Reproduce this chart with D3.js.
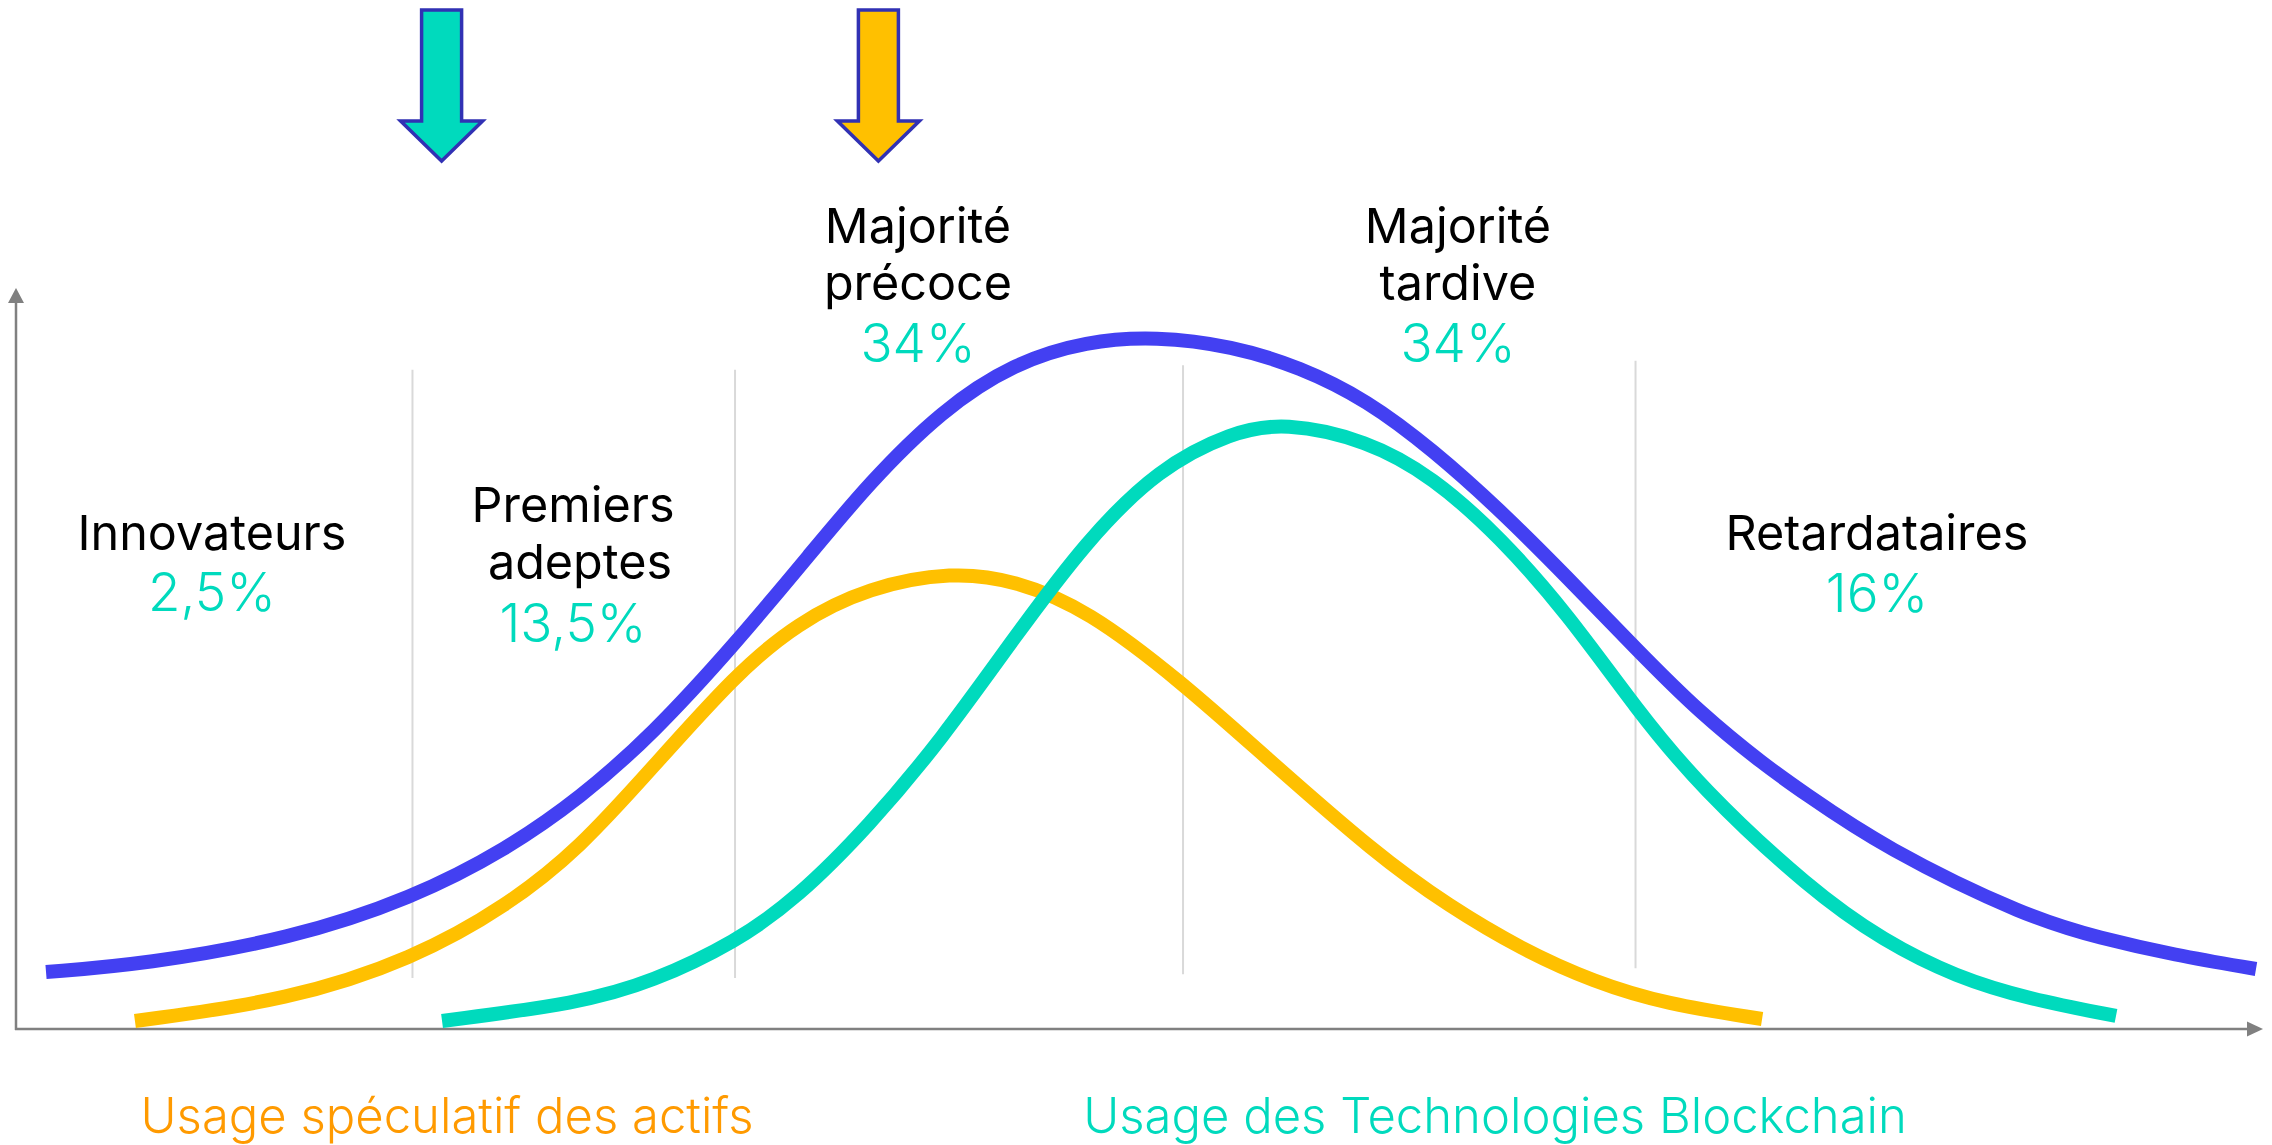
<!DOCTYPE html>
<html>
<head>
<meta charset="utf-8">
<script src="https://cdn.jsdelivr.net/npm/d3@7"></script>
<style>
  html, body { margin: 0; padding: 0; background: #ffffff; }
  svg { display: block; }
</style>
</head>
<body>
<svg id="chart" width="2272" height="1145"></svg>
<script>
// ---------------- DATA ----------------
const categories = ["Innovateurs", "Premiers adeptes", "Majorité précoce", "Majorité tardive", "Retardataires"];
const categoryLines = [["Innovateurs"], ["Premiers", "adeptes"], ["Majorité", "précoce"], ["Majorité", "tardive"], ["Retardataires"]];
const percentLabels = ["2,5%", "13,5%", "34%", "34%", "16%"];
const boundaries = [17.7, 32.1, 52.1, 72.3];

// adoption curve (blue)
const adoptionX = [1.34, 5.76, 12.23, 17.72, 21.92, 25.18, 28.39, 32.14, 35.49, 38.08, 41.34, 44.55, 47.81, 50.89, 54.29, 57.32, 60.31, 63.26, 66.25, 69.24, 72.37, 75.18, 78.17, 79.64, 83.39, 89.87, 93.04, 96.34, 100];
const adoptionY = [7.70, 8.78, 12.16, 17.70, 24.32, 31.22, 39.73, 52.16, 64.32, 73.78, 83.65, 90.00, 92.97, 93.60, 92.30, 89.46, 85.00, 78.24, 70.14, 61.08, 51.22, 42.70, 35.41, 32.30, 24.46, 15.00, 12.30, 10.00, 8.11];
// speculative use (yellow)
const speculativeX = [5.31, 12.23, 17.72, 21.92, 25.18, 28.39, 32.14, 34.87, 38.08, 41.83, 44.55, 47.81, 52.14, 55.58, 60.76, 63.97, 67.19, 70.45, 73.66, 77.95];
const speculativeY = [1.08, 3.92, 9.46, 16.62, 24.46, 35.27, 47.97, 54.86, 59.73, 61.80, 60.68, 56.76, 46.62, 37.30, 23.51, 16.62, 10.81, 6.35, 3.38, 1.35];
// blockchain use (teal)
const blockchainX = [19.02, 25.18, 28.39, 32.14, 34.87, 38.08, 41.34, 44.55, 47.81, 51.03, 54.29, 56.61, 60.31, 63.26, 66.25, 69.24, 72.37, 75.18, 80.13, 83.39, 86.61, 89.87, 93.75];
const blockchainY = [1.08, 3.51, 6.35, 11.76, 17.70, 27.43, 39.19, 52.84, 66.08, 75.81, 80.68, 82.00, 79.59, 74.59, 66.49, 56.22, 43.11, 32.70, 18.78, 11.89, 7.03, 4.05, 1.76];

const arrowPositions = [19.0, 38.5];
const bottomLabels = ["Usage spéculatif des actifs", "Usage des Technologies Blockchain"];

// ---------------- LAYOUT ----------------
const svg = d3.select("#chart");
const x = d3.scaleLinear().domain([0, 100]).range([16, 2256]);
const y = d3.scaleLinear().domain([0, 100]).range([1029, 289]);

const C_BLUE = "#4340f2", C_YELLOW = "#ffc000", C_TEAL = "#00dabd", C_AXIS = "#808080";
const C_GRID = "#d9d9d9", C_ORANGE = "#ff9a00", C_ARROW_EDGE = "#3131b4";
const FONT = "Inter, 'Noto Sans', sans-serif";

// gridlines (segment boundaries)
const gridTop = [89.1, 89.1, 89.7, 90.3];
const gridBottom = [6.9, 6.9, 7.4, 8.2];
svg.append("g").selectAll("line").data(boundaries).join("line")
  .attr("x1", d => x(d)).attr("x2", d => x(d))
  .attr("y1", (d, i) => y(gridTop[i])).attr("y2", (d, i) => y(gridBottom[i]))
  .attr("stroke", C_GRID).attr("stroke-width", 2);

// axes
const axisG = svg.append("g");
axisG.append("line").attr("x1", 16).attr("x2", 16).attr("y1", 300).attr("y2", 1030)
  .attr("stroke", C_AXIS).attr("stroke-width", 2.5);
axisG.append("line").attr("x1", 15).attr("x2", 2250).attr("y1", 1029).attr("y2", 1029)
  .attr("stroke", C_AXIS).attr("stroke-width", 2.5);
axisG.append("path").attr("d", "M16,288 L24,303 L8,303 Z").attr("fill", C_AXIS);
axisG.append("path").attr("d", "M2263,1029 L2247,1021.5 L2247,1036.5 Z").attr("fill", C_AXIS);

// curves
const line = d3.line().x(d => x(d[0])).y(d => y(d[1])).curve(d3.curveBasis);
const series = [
  { xs: adoptionX, ys: adoptionY, color: C_BLUE },
  { xs: speculativeX, ys: speculativeY, color: C_YELLOW },
  { xs: blockchainX, ys: blockchainY, color: C_TEAL }
];
svg.append("g").selectAll("path").data(series).join("path")
  .attr("d", s => line(s.xs.map((v, i) => [v, s.ys[i]])))
  .attr("fill", "none").attr("stroke", s => s.color).attr("stroke-width", 14)
  .attr("stroke-linecap", "butt");

// category labels
const labelPos = [
  { cx: 212, base: 550, pct: 611, dx: [0] },
  { cx: 573, base: 522, pct: 642, dx: [0, 7] },
  { cx: 918, base: 243, pct: 362, dx: [0, 0] },
  { cx: 1458, base: 243, pct: 362, dx: [0, 0] },
  { cx: 1877, base: 550, pct: 612, dx: [0] }
];
const lg = svg.append("g");
categories.forEach((c, i) => {
  const p = labelPos[i];
  categoryLines[i].forEach((t, j) => {
    lg.append("text").attr("x", p.cx + p.dx[j]).attr("y", p.base + j * 57)
      .attr("text-anchor", "middle").attr("font-family", FONT).attr("font-size", 48.5)
      .attr("fill", "#000").text(t);
  });
  lg.append("text").attr("x", p.cx).attr("y", p.pct)
    .attr("text-anchor", "middle").attr("font-family", FONT).attr("font-size", 53)
    .attr("font-weight", 300).attr("fill", C_TEAL).text(percentLabels[i]);
});

// arrows
const arrowColors = [C_TEAL, C_YELLOW];
svg.append("g").selectAll("path").data(arrowPositions).join("path")
  .attr("d", d => {
    const cx = x(d);
    return `M${cx - 20},10 L${cx + 20},10 L${cx + 20},121 L${cx + 41},121 L${cx},161 L${cx - 41},121 L${cx - 20},121 Z`;
  })
  .attr("fill", (d, i) => arrowColors[i]).attr("stroke", C_ARROW_EDGE).attr("stroke-width", 3.5)
  .attr("stroke-linejoin", "miter");

// bottom labels
const bottomPos = [447, 1495];
const bottomColors = [C_ORANGE, C_TEAL];
svg.append("g").selectAll("text").data(bottomLabels).join("text")
  .attr("x", (d, i) => bottomPos[i]).attr("y", 1133)
  .attr("text-anchor", "middle").attr("font-family", FONT).attr("font-size", 49)
  .attr("font-weight", 300).attr("fill", (d, i) => bottomColors[i]).text(d => d);
</script>
</body>
</html>
